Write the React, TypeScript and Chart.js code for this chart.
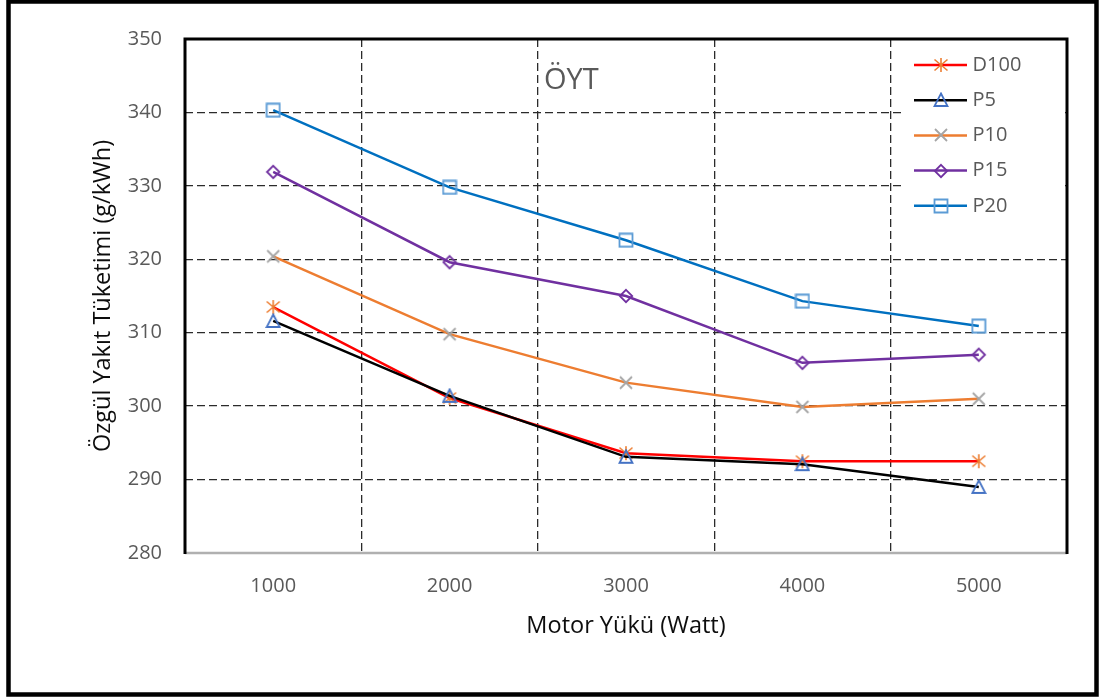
import React, { useEffect, useRef } from 'react';
import { Chart, registerables } from 'chart.js';

Chart.register(...registerables);

// ---- data ----
const categories = ['1000', '2000', '3000', '4000', '5000'];
const d100 = [313.5, 301.1, 293.6, 292.5, 292.5];
const p5 = [311.6, 301.4, 293.1, 292.1, 289.0];
const p10 = [320.4, 309.8, 303.2, 299.9, 301.0];
const p15 = [331.9, 319.6, 315.0, 305.9, 307.0];
const p20 = [340.3, 329.8, 322.6, 314.3, 310.9];
const seriesNames = ['D100', 'P5', 'P10', 'P15', 'P20'];
const yMin = 280;
const yMax = 350;
const yStep = 10;
const xTitle = 'Motor Yükü (Watt)';
const yTitle = 'Özgül Yakıt Tüketimi (g/kWh)';
const plotTitle = 'ÖYT';

const FONT = "'Open Sans', 'Noto Sans', sans-serif";

function makeMarker(kind: string, color: string, lw: number): HTMLCanvasElement {
  const c = document.createElement('canvas');
  c.width = 16;
  c.height = 16;
  const g = c.getContext('2d')!;
  g.strokeStyle = color;
  g.lineWidth = lw;
  g.lineJoin = 'miter';
  g.beginPath();
  switch (kind) {
    case 'star':
      g.moveTo(8, 1);
      g.lineTo(8, 15);
      g.moveTo(1.5, 2.5);
      g.lineTo(14.5, 13.5);
      g.moveTo(14.5, 2.5);
      g.lineTo(1.5, 13.5);
      break;
    case 'triangle':
      g.moveTo(8, 1.5);
      g.lineTo(14.5, 14);
      g.lineTo(1.5, 14);
      g.closePath();
      break;
    case 'x':
      g.moveTo(2, 2);
      g.lineTo(14, 14);
      g.moveTo(14, 2);
      g.lineTo(2, 14);
      break;
    case 'diamond':
      g.moveTo(8, 1.8);
      g.lineTo(14.2, 8);
      g.lineTo(8, 14.2);
      g.lineTo(1.8, 8);
      g.closePath();
      break;
    case 'square':
      g.rect(1.5, 1.5, 13, 13);
      break;
  }
  g.stroke();
  return c;
}

export default function App() {
  const ref = useRef<HTMLCanvasElement | null>(null);

  useEffect(() => {
    const canvas = ref.current;
    if (!canvas) return;

    const lineColors = ['#FF0000', '#000000', '#ED7D31', '#7030A0', '#0070C0'];
    const markers = [
      makeMarker('star', '#ED7D31', 1.6),
      makeMarker('triangle', '#4472C4', 1.8),
      makeMarker('x', '#A5A5A5', 1.8),
      makeMarker('diamond', '#7030A0', 1.8),
      makeMarker('square', '#5B9BD5', 1.8),
    ];
    const values = [d100, p5, p10, p15, p20];

    const framePlugin = {
      id: 'framePlugin',
      beforeDatasetsDraw(chart: any) {
        const { ctx, chartArea: a } = chart;
        ctx.save();
        // bottom axis (gray)
        ctx.strokeStyle = '#b0b0b0';
        ctx.lineWidth = 2.5;
        ctx.beginPath();
        ctx.moveTo(a.left, a.bottom);
        ctx.lineTo(a.right, a.bottom);
        ctx.stroke();
        // black borders
        ctx.strokeStyle = '#000000';
        ctx.lineWidth = 3;
        ctx.beginPath();
        ctx.moveTo(a.left, a.bottom + 1);
        ctx.lineTo(a.left, a.top);
        ctx.lineTo(a.right, a.top);
        ctx.lineTo(a.right, a.bottom + 1);
        ctx.stroke();
        // inner title
        ctx.fillStyle = '#595959';
        ctx.font = `29px ${FONT}`;
        ctx.textAlign = 'left';
        ctx.textBaseline = 'alphabetic';
        ctx.fillText(plotTitle, a.left + 359, a.top + 50);
        ctx.restore();
      },
      afterDraw(chart: any) {
        const { ctx, chartArea: a } = chart;
        ctx.save();
        // legend
        const lx = a.right - 162;
        const ly = a.top + 7;
        ctx.fillStyle = '#ffffff';
        ctx.fillRect(lx, ly, 160, 178);
        ctx.font = `20px ${FONT}`;
        ctx.textAlign = 'left';
        ctx.textBaseline = 'middle';
        seriesNames.forEach((name, i) => {
          const y = a.top + 26 + i * 35.2;
          ctx.strokeStyle = lineColors[i];
          ctx.lineWidth = 2.5;
          ctx.beginPath();
          ctx.moveTo(a.right - 153, y);
          ctx.lineTo(a.right - 100, y);
          ctx.stroke();
          const m = markers[i];
          ctx.drawImage(m, Math.round(a.right - 126.5) - m.width / 2, Math.round(y) - m.height / 2);
          ctx.fillStyle = '#595959';
          ctx.fillText(name, a.right - 94.5, y);
        });
        // outer frame
        ctx.strokeStyle = '#000000';
        ctx.lineWidth = 4.5;
        ctx.strokeRect(8.5, 1.5, 1088, 693);
        ctx.restore();
      },
    };

    const chart = new Chart(canvas, {
      type: 'line',
      data: {
        labels: categories,
        datasets: seriesNames.map((name, i) => ({
          label: name,
          data: values[i],
          borderColor: lineColors[i],
          backgroundColor: lineColors[i],
          borderWidth: 2.5,
          pointStyle: markers[i] as any,
          pointRadius: 7,
          pointHoverRadius: 7,
          tension: 0,
          fill: false,
          order: -i,
        })),
      },
      options: {
        responsive: false,
        animation: false,
        events: [],
        layout: { padding: { left: 0, top: 39, right: 32, bottom: 0 } },
        plugins: {
          legend: { display: false },
          tooltip: { enabled: false },
          title: { display: false },
        },
        scales: {
          x: {
            type: 'category',
            offset: true,
            grid: {
              offset: true,
              drawTicks: false,
              color: '#2b2b2b',
              lineWidth: 1.3,
            },
            border: { display: false, dash: [8, 4] },
            ticks: {
              color: '#595959',
              font: { family: FONT, size: 20 },
              padding: 21,
              maxRotation: 0,
            },
            title: {
              display: true,
              text: xTitle,
              color: '#0d0d0d',
              font: { family: FONT, size: 23.5 },
              padding: { top: 0, bottom: 57 },
            },
            afterFit(scale: any) {
              scale.height = 144;
            },
          },
          y: {
            min: yMin,
            max: yMax,
            grid: {
              drawTicks: false,
              color: (c: any) =>
                c.tick && (c.tick.value === yMin || c.tick.value === yMax) ? 'rgba(0,0,0,0)' : '#2b2b2b',
              lineWidth: 1.3,
            },
            border: { display: false, dash: [8, 4] },
            ticks: {
              stepSize: yStep,
              color: '#595959',
              font: { family: FONT, size: 20 },
              padding: 23,
            },
            title: {
              display: true,
              text: yTitle,
              color: '#0d0d0d',
              font: { family: FONT, size: 23.5 },
              padding: { top: 89, bottom: 0 },
            },
            afterFit(scale: any) {
              scale.width = 185;
            },
          },
        },
      },
      plugins: [framePlugin],
    });

    return () => chart.destroy();
  }, []);

  return (
    <div style={{ position: 'absolute', left: 0, top: 0, width: 1099, height: 697, background: '#fff' }}>
      <canvas ref={ref} width={1099} height={697} style={{ display: 'block' }} />
    </div>
  );
}
